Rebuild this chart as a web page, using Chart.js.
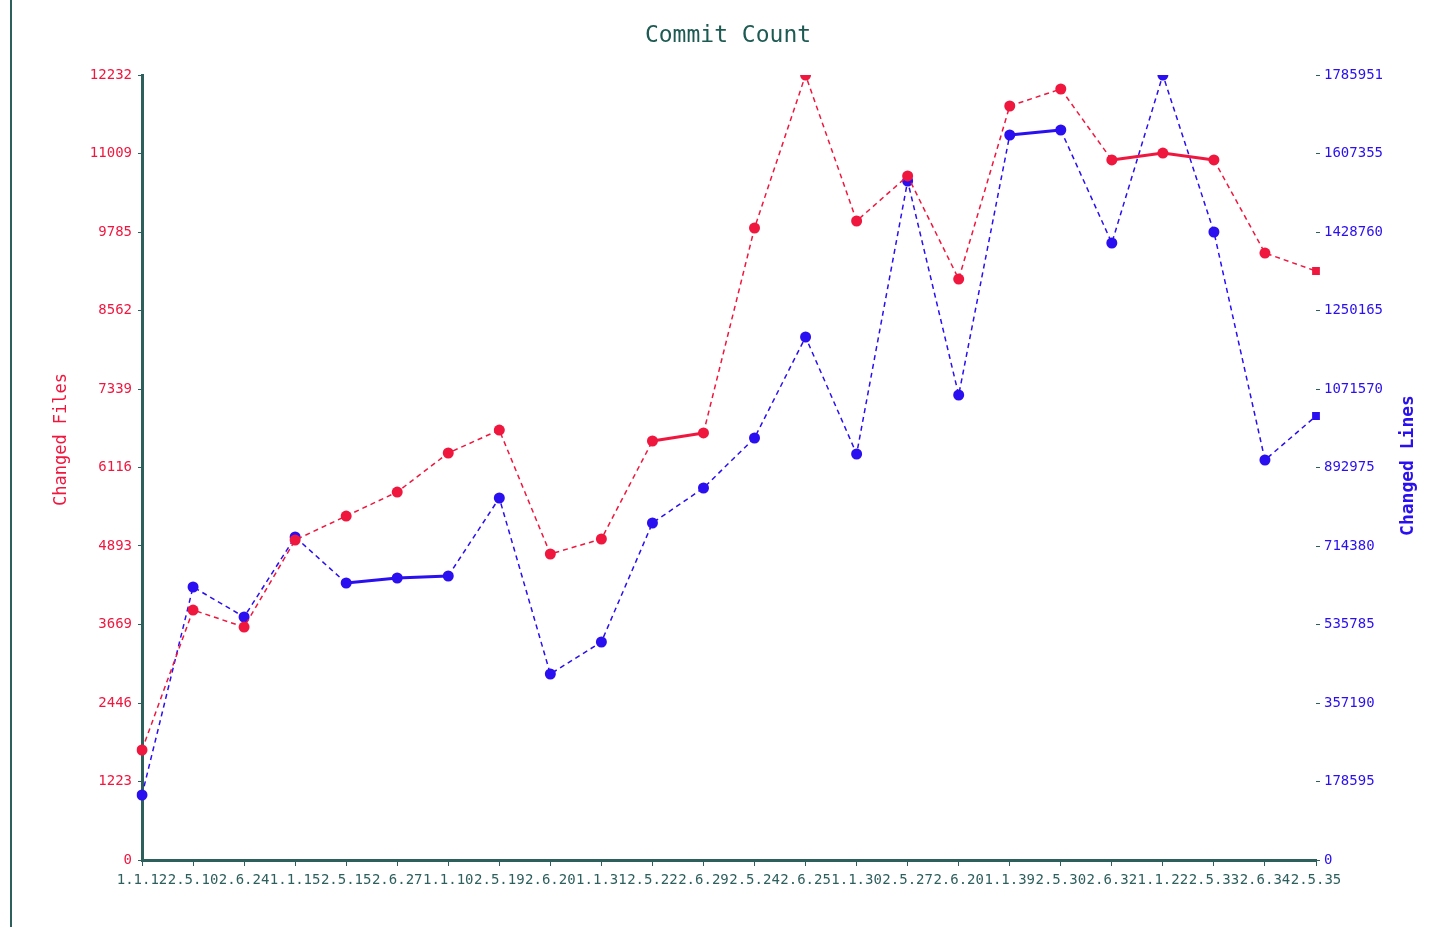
<!DOCTYPE html>
<html>
<head>
<meta charset="utf-8">
<script src="https://cdn.jsdelivr.net/npm/chart.js@4/dist/chart.umd.min.js"></script>
<style>
  html, body { margin: 0; padding: 0; background: #fff; }
  #wrap { width: 1435px; height: 927px; }
</style>
</head>
<body>
<div id="wrap"><canvas id="commits"></canvas></div>
<script>
'use strict';
const versions = ["1.1.12", "2.5.10", "2.6.24", "1.1.15", "2.5.15", "2.6.27", "1.1.10", "2.5.19",
  "2.6.20", "1.1.31", "2.5.22", "2.6.29", "2.5.24", "2.6.25", "1.1.30", "2.5.27",
  "2.6.20", "1.1.39", "2.5.30", "2.6.32", "1.1.22", "2.5.33", "2.6.34", "2.5.35"];
const changedFiles = [1714, 3895, 3630, 4986, 5360, 5734, 6342, 6700, 4768, 5002, 6529, 6654,
  9848, 12232, 9957, 10659, 9053, 11749, 12014, 10908, 11016, 10908, 9458, 9178];
const changedLines = [147880, 621100, 552860, 734860, 630200, 641580, 646140, 823590, 423170, 495970, 766710, 846340,
  960100, 1189880, 923690, 1544800, 1057920, 1649450, 1660820, 1403730, 1785951, 1428760, 910040, 1010150];
const filesTicks = ["0", "1223", "2446", "3669", "4893", "6116", "7339", "8562", "9785", "11009", "12232"];
const linesTicks = ["0", "178595", "357190", "535785", "714380", "892975", "1071570", "1250165", "1428760", "1607355", "1785951"];

const RED = '#f0173f';
const BLUE = '#2a0ff0';
const TEAL = '#2d5f5c';
const MONO = '"DejaVu Sans Mono", monospace';

// flat segments come out solid in the original, steep ones dashed
const segStyle = {
  borderDash: ctx => Math.abs(ctx.p1.y - ctx.p0.y) < 12 ? [] : [5, 4],
  borderWidth: ctx => Math.abs(ctx.p1.y - ctx.p0.y) < 12 ? 3 : 1.5
};

const decor = {
  id: 'decor',
  afterDraw(chart) {
    const c = chart.ctx;
    const area = chart.chartArea;
    c.save();
    c.strokeStyle = TEAL;
    c.lineWidth = 2;
    c.beginPath();
    c.moveTo(11, 0);
    c.lineTo(11, chart.height);
    c.stroke();

    c.fillStyle = '#1d5a52';
    c.font = '23px ' + MONO;
    c.textAlign = 'center';
    c.textBaseline = 'middle';
    c.fillText('Commit Count', 728, 36);

    const midY = (area.top + area.bottom) / 2;
    c.font = '17px ' + MONO;
    c.fillStyle = RED;
    c.translate(62, midY - 28);
    c.rotate(-Math.PI / 2);
    c.fillText('Changed Files', 0, 0);
    c.setTransform(1, 0, 0, 1, 0, 0);
    c.scale(chart.currentDevicePixelRatio, chart.currentDevicePixelRatio);
    c.font = 'bold 18px ' + MONO;
    c.fillStyle = BLUE;
    c.translate(1408, midY - 2);
    c.rotate(-Math.PI / 2);
    c.fillText('Changed Lines', 0, 0);
    c.restore();
  }
};

new Chart(document.getElementById('commits'), {
  type: 'line',
  data: {
    labels: versions,
    datasets: [
      {
        label: 'Changed Files',
        data: changedFiles,
        yAxisID: 'files',
        borderColor: RED,
        backgroundColor: RED,
        pointRadius: 5.5,
        pointStyle: changedFiles.map((v, i) => i === changedFiles.length - 1 ? 'rect' : 'circle'),
        pointBorderWidth: 0,
        segment: segStyle,
        tension: 0
      },
      {
        label: 'Changed Lines',
        data: changedLines,
        yAxisID: 'lines',
        borderColor: BLUE,
        backgroundColor: BLUE,
        pointRadius: 5.5,
        pointStyle: changedLines.map((v, i) => i === changedLines.length - 1 ? 'rect' : 'circle'),
        pointBorderWidth: 0,
        segment: segStyle,
        tension: 0
      }
    ]
  },
  options: {
    responsive: true,
    maintainAspectRatio: false,
    animation: false,
    layout: { padding: { top: 75, left: 0, right: 0, bottom: 0 } },
    plugins: {
      legend: { display: false },
      tooltip: { enabled: false },
      title: { display: false }
    },
    scales: {
      x: {
        offset: false,
        grid: { display: true, drawOnChartArea: false, color: TEAL, tickLength: 6 },
        border: { color: TEAL, width: 3 },
        ticks: {
          color: TEAL,
          autoSkip: false,
          maxRotation: 0,
          minRotation: 0,
          padding: 6,
          font: { family: MONO, size: 14 }
        },
        afterFit: s => { s.height = 67; }
      },
      files: {
        position: 'left',
        min: 0,
        max: 12232,
        afterBuildTicks: s => { s.ticks = filesTicks.map(t => ({ value: Number(t) })); },
        grid: { display: true, drawOnChartArea: false, color: TEAL, tickLength: 4 },
        border: { color: TEAL, width: 3 },
        ticks: {
          color: RED,
          padding: 6,
          font: { family: MONO, size: 14 },
          callback: (v, i) => filesTicks[i]
        },
        afterFit: s => { s.width = 142; }
      },
      lines: {
        position: 'right',
        min: 0,
        max: 1785951,
        afterBuildTicks: s => { s.ticks = linesTicks.map(t => ({ value: Number(t) })); },
        grid: { display: true, drawOnChartArea: false, color: TEAL, tickLength: 4 },
        border: { display: false },
        ticks: {
          color: BLUE,
          padding: 4,
          font: { family: MONO, size: 14 },
          callback: (v, i) => linesTicks[i]
        },
        afterFit: s => { s.width = 119; }
      }
    }
  },
  plugins: [decor]
});
</script>
</body>
</html>
